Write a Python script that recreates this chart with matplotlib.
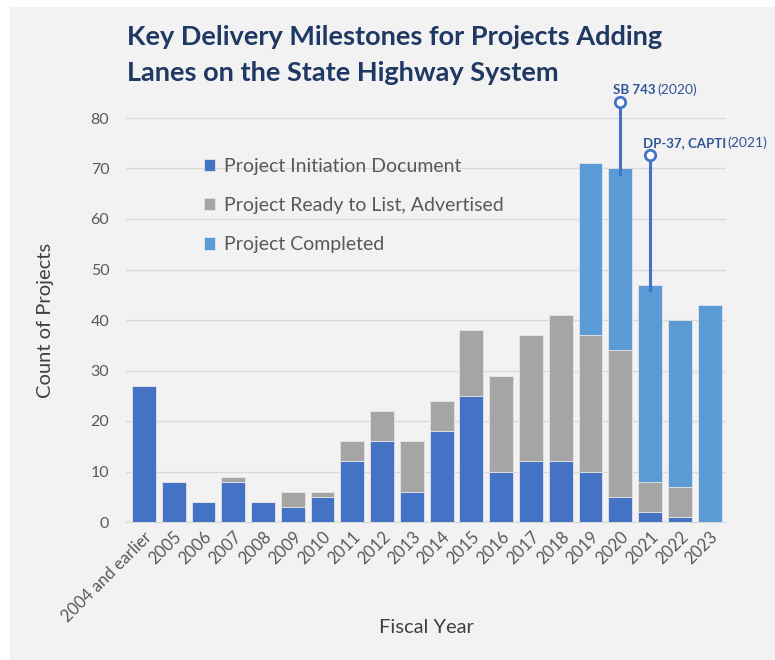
import numpy as np
import matplotlib.pyplot as plt
from matplotlib.patches import Rectangle

plt.rcParams['font.family'] = ['Lato', 'DejaVu Sans']

years = ['2004 and earlier', '2005', '2006', '2007', '2008', '2009', '2010',
         '2011', '2012', '2013', '2014', '2015', '2016', '2017', '2018',
         '2019', '2020', '2021', '2022', '2023']
pid = [27, 8, 4, 8, 4, 3, 5, 12, 16, 6, 18, 25, 10, 12, 12, 10, 5, 2, 1, 0]
rtl = [0, 0, 0, 1, 0, 3, 1, 4, 6, 10, 6, 13, 19, 25, 29, 27, 29, 6, 6, 0]
completed = [0, 0, 0, 0, 0, 0, 0, 0, 0, 0, 0, 0, 0, 0, 0, 34, 36, 39, 33, 43]

series_names = ['Project Initiation Document', 'Project Ready to List, Advertised',
                'Project Completed']
colors = ['#4472C4', '#A5A5A5', '#5B9BD5']

# milestone callouts: (category, marker value, bold part, normal part)
milestones = [('2020', 83.2, 'SB 743', '(2020)'),
              ('2021', 72.7, 'DP-37, CAPTI', '(2021)')]

fig = plt.figure(figsize=(7.75, 6.6), dpi=100)
fig.patch.set_facecolor('white')
fig.patches.append(Rectangle((10 / 775, -0.01), 1, 1.01 - 7 / 660, transform=fig.transFigure,
                             facecolor='#F2F2F2', edgecolor='none', zorder=-10))

ax = fig.add_axes([126 / 775, 1 - 522 / 660, 600 / 775, 404 / 660])
ax.set_facecolor('#F2F2F2')

x = np.arange(len(years))
bottom = np.zeros(len(years))
for vals, c, name in zip([pid, rtl, completed], colors, series_names):
    ax.bar(x, vals, 0.8, bottom=bottom, color=c, edgecolor='#E4E4E4', linewidth=0.6,
           label=name, zorder=3)
    bottom += np.array(vals)

ax.set_ylim(0, 80)
ax.set_xlim(-0.6, len(years) - 0.45)
ax.set_yticks(range(0, 81, 10))
ax.yaxis.grid(True, color='#D9D9D9', linewidth=1)
ax.set_axisbelow(True)
for s in ['top', 'right', 'left']:
    ax.spines[s].set_visible(False)
ax.spines['bottom'].set_color('#D9D9D9')
ax.tick_params(axis='both', length=0, colors='#595959', labelsize=11.5)
ax.tick_params(axis='y', pad=12)
ax.tick_params(axis='x', pad=5, labelsize=12)
ax.set_xticks(x)
ax.set_xticklabels(years, rotation=45, ha='right', rotation_mode='anchor')

ax.set_ylabel('Count of Projects', fontsize=14.5, color='#404040', labelpad=26)
ax.set_xlabel('Fiscal Year', fontsize=14.5, color='#404040', labelpad=-4)

leg = ax.legend(loc='upper left', bbox_to_anchor=(0.1, 0.945), frameon=False,
                fontsize=14, labelcolor='#595959', handlelength=0.6, handleheight=0.6,
                labelspacing=1.15, handletextpad=0.45)

fig.text(127 / 775, 1 - 55 / 660, 'Key Delivery Milestones for Projects Adding\n'
         'Lanes on the State Highway System', fontsize=19.5, fontweight='bold',
         color='#1F3864', va='center', ha='left', linespacing=1.6)

totals = bottom
fig.canvas.draw()
renderer = fig.canvas.get_renderer()
for cat, yv, bold, normal in milestones:
    i = years.index(cat)
    ax.plot([i, i], [totals[i] - 1, yv], color='#4472C4', lw=2.2, clip_on=False,
            zorder=5)
    ax.plot([i], [yv], marker='o', ms=7.5, mfc='white', mec='#4472C4', mew=2,
            clip_on=False, zorder=6)
    t = ax.annotate(bold, (i, yv), xytext=(-5, 4), textcoords='offset points',
                    fontsize=9.5, fontweight='bold', color='#2F5597', ha='left',
                    va='bottom', annotation_clip=False)
    bb = t.get_window_extent(renderer)
    w = bb.width * 72 / fig.dpi
    ax.annotate(normal, (i, yv), xytext=(-5 + w + 1, 4), textcoords='offset points',
                fontsize=10, color='#2F5597', ha='left', va='bottom',
                annotation_clip=False)

fig.savefig('out.png', dpi=100, facecolor=fig.get_facecolor())
